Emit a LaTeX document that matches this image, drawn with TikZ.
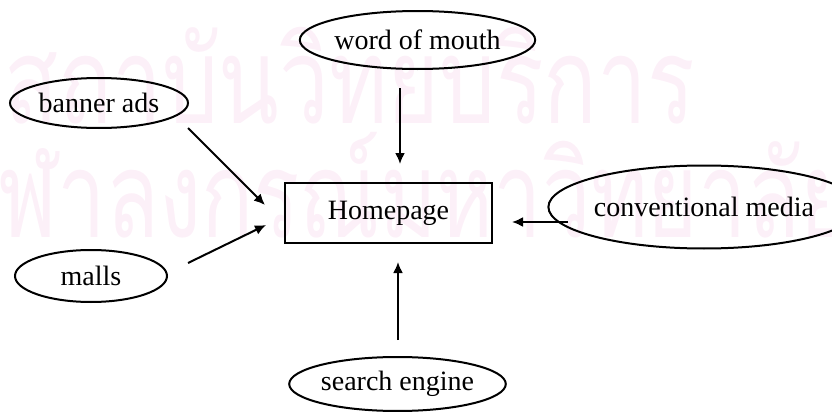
\documentclass[tikz,border=0pt]{standalone}
\usepackage{fontspec}
\setmainfont{Liberation Serif}
\newfontfamily\thaifont[Script=Thai]{Loma}
\usetikzlibrary{shapes.geometric,arrows.meta}
\definecolor{wmpink}{RGB}{252,240,248}
\begin{document}
\begin{tikzpicture}[x=0.5pt,y=-0.5pt,
  every node/.style={font=\fontsize{14}{16}\selectfont},
  oval/.style={draw,ellipse,line width=1pt,inner sep=0pt},
  hbox/.style={draw,rectangle,line width=0.9pt,inner sep=0pt,minimum width=103.5pt,minimum height=30pt},
  arr/.style={line width=1pt,-{Latex[length=5.5pt,width=5pt]}},
  wm/.style={text=wmpink,inner sep=0pt,font=\thaifont\fontsize{60}{70}\selectfont}]
\path[use as bounding box] (0,0) rectangle (832,412);
\clip (0,0) rectangle (832,412);
% watermark
\node[wm,anchor=base west] (wm1) at (4,123) {\scalebox{0.74}[1]{สถาบันวิทยบริการ}};
\node[wm,anchor=base west] (wm2) at (-2,237) {\scalebox{0.72}[1]{ฬาลงกรณ์มหาวิทยาลัย}};
% nodes
\node[hbox] (home) at (388.5,213) {Homepage};
\node[oval,minimum width=114.5pt,minimum height=29pt] (wom) at (417.5,40) {word of mouth};
\node[oval,minimum width=89pt,minimum height=25pt] (banner) at (99,103) {banner ads};
\node[oval,minimum width=76pt,minimum height=26pt] (malls) at (91,276) {malls};
\node[oval,minimum width=126pt,minimum height=41.5pt] (conv) at (704,207) {conventional media};
\node[oval,minimum width=92.5pt,minimum height=27pt] (search) at (397.5,384) {search engine};
% connector end points
\coordinate (womS) at (400,88);
\coordinate (homeN) at (400,164);
\coordinate (banS) at (188,128);
\coordinate (homeW1) at (265,205);
\coordinate (malE) at (188,263);
\coordinate (homeW2) at (266,225);
\coordinate (convW) at (568,222);
\coordinate (homeE) at (512,222);
\coordinate (seaN) at (398,340);
\coordinate (homeS) at (398,262);
\draw[arr] (womS) -- (homeN);
\draw[arr] (banS) -- (homeW1);
\draw[arr] (malE) -- (homeW2);
\draw[arr] (convW) -- (homeE);
\draw[arr] (seaN) -- (homeS);
\end{tikzpicture}
\end{document}
